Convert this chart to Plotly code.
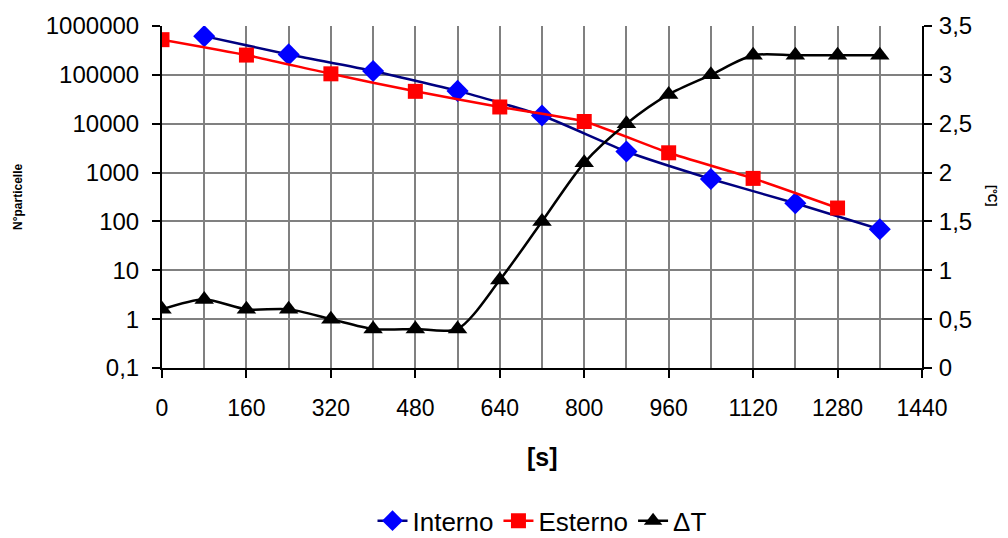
import plotly.graph_objects as go

# ---- data ----
time_interno = [80, 240, 400, 560, 720, 880, 1040, 1200, 1360]
interno = [620000, 262000, 120000, 47000, 14700, 2700, 740, 235, 69]

time_esterno = [0, 160, 320, 480, 640, 800, 960, 1120, 1280]
esterno = [525000, 254000, 105000, 46000, 22000, 11100, 2540, 760, 188]

time_dt = [0, 80, 160, 240, 320, 400, 480, 560, 640, 720, 800, 880, 960,
           1040, 1120, 1200, 1280, 1360]
delta_t = [0.6, 0.7, 0.6, 0.6, 0.5, 0.4, 0.4, 0.4, 0.9, 1.5, 2.1, 2.5, 2.8,
           3.0, 3.2, 3.2, 3.2, 3.2]

x_ticks = [0, 160, 320, 480, 640, 800, 960, 1120, 1280, 1440]
y_left_vals = [0.1, 1, 10, 100, 1000, 10000, 100000, 1000000]
y_left_text = ["0,1", "1", "10", "100", "1000", "10000", "100000", "1000000"]
y_right_vals = [0, 0.5, 1, 1.5, 2, 2.5, 3, 3.5]
y_right_text = ["0", "0,5", "1", "1,5", "2", "2,5", "3", "3,5"]

FONT = "Liberation Sans, Arial, sans-serif"
GRID = "#808080"

fig = go.Figure()
fig.add_trace(go.Scatter(
    x=time_interno, y=interno, name="Interno", mode="lines+markers",
    line=dict(color="#000080", width=2.5, shape="spline", smoothing=0.5),
    marker=dict(symbol="diamond", color="#0000FF", size=17, line=dict(width=0)),
))
fig.add_trace(go.Scatter(
    x=time_esterno, y=esterno, name="Esterno", mode="lines+markers",
    line=dict(color="#FF0000", width=2.5, shape="spline", smoothing=0.5),
    marker=dict(symbol="square", color="#FF0000", size=15, line=dict(width=0)),
))
fig.add_trace(go.Scatter(
    x=time_dt, y=delta_t, name="ΔT", mode="lines+markers", yaxis="y2",
    line=dict(color="#000000", width=2.5, shape="spline", smoothing=0.8),
    marker=dict(symbol="triangle-up", color="#000000", size=17, line=dict(width=0)),
))

fig.update_layout(
    width=1008, height=538,
    margin=dict(l=162, r=86, t=22, b=170),
    paper_bgcolor="white", plot_bgcolor="white",
    font=dict(family=FONT, color="black", size=23),
    separators=",.",
    showlegend=True,
    legend=dict(orientation="h", x=0.5, xanchor="center",
                y=0.032, yref="container", yanchor="middle",
                font=dict(size=26), bgcolor="rgba(0,0,0,0)",
                itemwidth=30, tracegroupgap=0),
    xaxis=dict(
        range=[0, 1440], tickvals=x_ticks, ticktext=[str(v) for v in x_ticks],
        showgrid=True, gridcolor=GRID, gridwidth=2,
        minor=dict(dtick=80, tick0=0, showgrid=True, gridcolor=GRID, gridwidth=2, ticks=""),
        showline=True, linecolor="black", linewidth=2,
        ticks="outside", ticklen=8, tickwidth=2, tickcolor="black",
        ticklabelstandoff=10, zeroline=False,
        tickfont=dict(size=23),
    ),
    yaxis=dict(
        type="log", range=[-1, 6], tickvals=y_left_vals, ticktext=y_left_text,
        showgrid=True, gridcolor=GRID, gridwidth=2,
        showline=True, linecolor="black", linewidth=2,
        ticks="outside", ticklen=8, tickwidth=2, tickcolor="black",
        ticklabelstandoff=8,
        zeroline=False, tickfont=dict(size=24),
    ),
    yaxis2=dict(
        overlaying="y", side="right", range=[0, 3.5],
        tickvals=y_right_vals, ticktext=y_right_text,
        showgrid=False, zeroline=False,
        showline=True, linecolor="black", linewidth=2,
        ticks="outside", ticklen=8, tickwidth=2, tickcolor="black",
        ticklabelstandoff=2,
        tickfont=dict(size=24),
    ),
    annotations=[
        dict(text="<b>[s]</b>", xref="paper", yref="paper", x=0.5, y=-0.26,
             showarrow=False, font=dict(size=25), xanchor="center", yanchor="middle"),
        dict(text="<b>N°particelle</b>", x=18, y=195, xref="paper", yref="paper",
             showarrow=False, font=dict(size=12), textangle=-90,
             xanchor="center", yanchor="middle"),
        dict(text="<b>[°C]</b>", x=992, y=193, xref="paper", yref="paper",
             showarrow=False, font=dict(size=12), textangle=90,
             xanchor="center", yanchor="middle"),
    ],
)

# convert pixel annotation positions to paper coords
pl, pr, pt, pb = 162, 1008 - 86, 22, 538 - 170
for a in fig.layout.annotations[1:]:
    px, py = a.x, a.y
    a.x = (px - pl) / (pr - pl)
    a.y = (pb - py) / (pb - pt)

fig.write_html("out.html")
